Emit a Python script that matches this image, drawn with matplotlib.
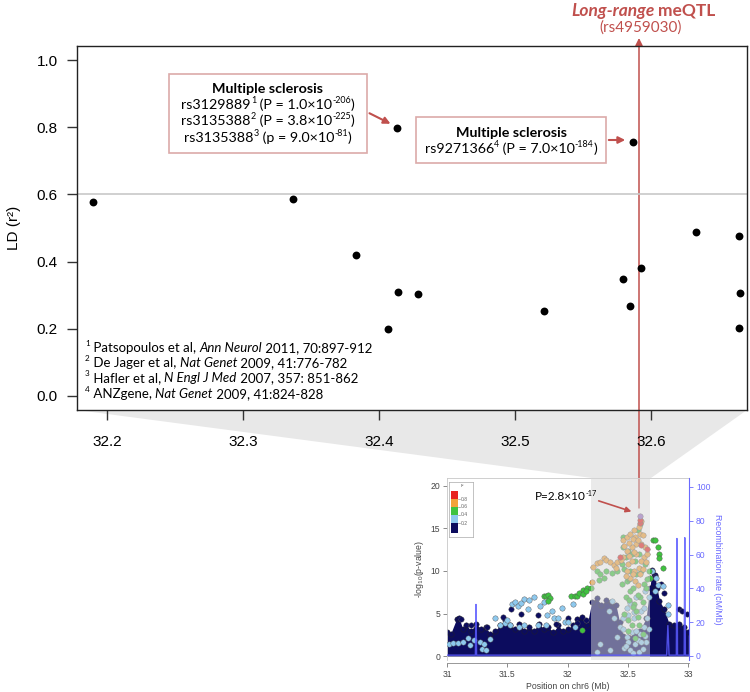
import matplotlib
matplotlib.use('Agg')
import matplotlib.pyplot as plt
from matplotlib.patches import Polygon, FancyArrowPatch, Rectangle

plt.rcParams['font.family'] = ['Liberation Sans', 'DejaVu Sans']
plt.rcParams['mathtext.fontset'] = 'custom'
plt.rcParams['mathtext.rm'] = 'Lato'
plt.rcParams['mathtext.it'] = 'Lato:italic'
plt.rcParams['mathtext.bf'] = 'Lato:bold'

# ---------------- data: main LD panel ----------------
ld_pos = [32.1898, 32.3366, 32.3833, 32.4137, 32.4287, 32.4066, 32.5213, 32.5791,
          32.5843, 32.5927, 32.6332, 32.6647, 32.6654, 32.6647, 32.4130, 32.5870]
ld_r2 = [0.578, 0.586, 0.419, 0.309, 0.305, 0.199, 0.254, 0.347,
         0.269, 0.382, 0.487, 0.477, 0.306, 0.203, 0.797, 0.756]
main_xticks = [32.2, 32.3, 32.4, 32.5, 32.6]
main_yticks = [0.0, 0.2, 0.4, 0.6, 0.8, 1.0]

# annotation lines as (text, is_superscript) pieces
box1_title = "Multiple sclerosis"
box1_lines = [[("rs3129889", 0), ("1", 1), (" (P = 1.0×10", 0), ("-206", 1), (")", 0)],
              [("rs3135388", 0), ("2", 1), (" (P = 3.8×10", 0), ("-225", 1), (")", 0)],
              [("rs3135388", 0), ("3", 1), (" (p = 9.0×10", 0), ("-81", 1), (")", 0)]]
box2_title = "Multiple sclerosis"
box2_lines = [[("rs9271366", 0), ("4", 1), (" (P = 7.0×10", 0), ("-184", 1), (")", 0)]]
inset_label = [("P=2.8×10", 0), ("-17", 1)]
# footnotes: (superscript, authors, journal (italic), reference)
fn_sup = ['1', '2', '3', '4']
fn_auth = [' Patsopoulos et al, ', ' De Jager et al, ', ' Hafler et al, ', ' ANZgene, ']
fn_journal = ['Ann Neurol', 'Nat Genet', 'N Engl J Med', 'Nat Genet']
fn_ref = [' 2011, 70:897-912', ' 2009, 41:776-782', ' 2007, 357: 851-862', ' 2009, 41:824-828']

# ---------------- data: inset (regional association) ----------------
ground_pos = [31.0, 31.03, 31.08, 31.1, 31.13, 31.16, 31.2, 31.24, 31.28, 31.32, 31.36, 31.4,
              31.44, 31.48, 31.52, 31.56, 31.6, 31.64, 31.68, 31.72, 31.76, 31.8, 31.84, 31.88,
              31.92, 31.96, 32.0, 32.04, 32.08, 32.12, 32.16, 32.2, 32.24, 32.28, 32.32, 32.36,
              32.4, 32.43, 32.46, 32.5, 32.55, 32.6, 32.65, 32.68, 32.7, 32.72, 32.74, 32.76,
              32.8, 32.84, 32.88, 32.92, 32.96, 33.0]
ground_top = [2.8, 2.6, 4.4, 4.5, 3.2, 3.6, 3.0, 3.8, 3.2, 3.4, 2.6, 3.0,
              3.6, 4.2, 3.6, 3.2, 3.8, 3.0, 3.4, 3.0, 3.8, 3.2, 3.4, 2.8,
              3.6, 3.0, 3.2, 3.6, 4.4, 4.6, 3.6, 6.4, 6.8, 6.0, 6.6, 6.4,
              6.0, 4.0, 2.4, 2.2, 2.6, 3.0, 4.5, 8.0, 10.0, 9.5, 8.0, 6.5,
              5.5, 3.8, 3.6, 3.8, 3.4, 2.8]
navy_pts = [(31.46, 4.6), (31.53, 5.5), (31.61, 4.9), (31.75, 4.8), (32.00, 4.5), (32.08, 3.9),
            (32.72, 9.3), (32.77, 8.5), (32.80, 7.4), (32.92, 5.5), (32.95, 5.3), (32.99, 4.9),
            (31.12, 4.3), (31.20, 3.6), (31.33, 3.4), (31.90, 3.8), (32.15, 4.2), (32.70, 10.1)]
lightblue_pts = [(31.02, 1.4), (31.05, 1.5), (31.09, 1.5), (31.13, 1.7), (31.17, 2.1), (31.19, 1.3),
                 (31.22, 1.9), (31.27, 1.7), (31.29, 0.8), (31.32, 0.7), (31.31, 1.4), (31.36, 2.0),
                 (31.40, 4.5), (31.44, 3.6), (31.48, 3.9), (31.52, 3.7), (31.54, 6.1), (31.56, 6.3),
                 (31.59, 5.9), (31.61, 6.2), (31.64, 6.7), (31.68, 6.6), (31.67, 5.5), (31.72, 6.9),
                 (31.77, 5.9), (31.80, 6.4), (31.83, 4.8), (31.87, 5.3), (31.89, 4.5), (31.92, 4.5),
                 (31.95, 5.7), (31.98, 4.0), (32.00, 4.0), (32.04, 6.1), (32.06, 3.4), (31.64, 3.6),
                 (31.60, 3.4), (31.50, 4.2), (31.75, 3.7), (31.82, 3.6),
                 (32.37, 6.5), (32.34, 5.3), (32.38, 4.5), (32.41, 2.2), (32.27, 1.4), (32.24, 0.5),
                 (32.35, 0.7), (32.43, 3.4), (32.49, 2.2), (32.52, 0.7), (32.56, 1.4), (32.59, 0.5),
                 (32.60, 2.6), (32.63, 3.4), (32.66, 4.5), (32.61, 5.3), (32.55, 4.5), (32.49, 5.7),
                 (32.46, 4.5), (32.52, 6.2), (32.57, 6.9), (32.64, 7.6), (32.68, 9.2), (32.70, 10.0),
                 (32.73, 9.2), (32.75, 8.4), (32.79, 8.2), (32.83, 6.0), (32.83, 4.9), (32.67, 6.9),
                 (32.72, 7.6), (32.47, 0.9), (32.50, 1.6), (32.54, 0.4), (32.58, 1.9), (32.62, 0.8),
                 (32.65, 1.7), (32.46, 3.2), (32.48, 1.2), (32.53, 2.8), (32.57, 3.0), (32.61, 1.6),
                 (32.64, 2.4), (32.50, 4.8), (32.55, 5.2), (32.63, 5.6), (32.67, 3.2)]
green_pts = [(31.80, 7.1), (31.82, 7.1), (31.84, 7.2), (31.85, 6.8), (31.84, 6.5), (32.03, 7.1),
             (32.06, 7.1), (32.08, 7.1), (32.09, 7.4), (32.13, 7.8), (32.16, 8.0), (32.19, 8.0),
             (32.12, 3.1), (32.13, 7.3), (32.15, 7.6), (32.24, 10.0), (32.27, 9.6), (32.30, 9.2),
             (32.26, 8.9), (32.32, 10.0), (32.37, 9.8), (32.41, 10.0), (32.45, 10.8), (32.48, 11.6),
             (32.46, 14.0), (32.46, 12.8), (32.50, 12.4), (32.53, 12.0), (32.56, 11.2), (32.59, 12.0),
             (32.61, 10.0), (32.64, 10.8), (32.67, 10.0), (32.68, 9.2), (32.49, 8.8), (32.52, 7.6),
             (32.55, 6.1), (32.57, 5.3), (32.53, 3.6), (32.56, 2.1), (32.50, 2.9), (32.59, 3.6),
             (32.60, 6.9), (32.48, 6.9), (32.45, 8.5), (32.63, 8.5), (32.52, 10.0), (32.58, 14.8),
             (32.60, 15.5), (32.71, 13.6), (32.72, 13.6), (32.75, 12.8), (32.76, 12.0), (32.76, 11.5),
             (32.79, 10.3), (32.47, 10.2), (32.51, 9.0), (32.54, 8.0), (32.58, 7.2), (32.62, 6.4),
             (32.65, 8.0), (32.47, 5.0), (32.50, 4.2), (32.54, 5.8), (32.58, 4.6), (32.62, 2.6),
             (32.57, 9.6), (32.51, 6.6), (32.66, 9.0)]
orange_pts = [(32.21, 10.5), (32.24, 10.9), (32.27, 11.1), (32.30, 11.5), (32.32, 11.3), (32.35, 11.0),
              (32.38, 10.7), (32.41, 11.1), (32.20, 8.7), (32.46, 13.6), (32.49, 14.0), (32.52, 14.4),
              (32.55, 14.8), (32.56, 14.0), (32.59, 15.2), (32.60, 14.4), (32.61, 13.2), (32.57, 13.2),
              (32.53, 12.8), (32.49, 12.4), (32.46, 11.6), (32.50, 10.8), (32.55, 10.0), (32.59, 10.4),
              (32.63, 11.6), (32.66, 12.0), (32.64, 12.8), (32.61, 11.2), (32.52, 9.2), (32.56, 8.8),
              (32.49, 10.0), (32.60, 9.6), (32.53, 11.2), (32.57, 12.0), (32.61, 15.9),
              (32.47, 12.9), (32.51, 13.3), (32.54, 13.8), (32.58, 13.6), (32.62, 14.2), (32.48, 9.4),
              (32.54, 9.6), (32.58, 8.4), (32.62, 10.2), (32.65, 11.0), (32.51, 11.8), (32.55, 12.2),
              (32.44, 11.3), (32.40, 10.4)]
red_pts = [(32.43, 11.6), (32.595, 15.7), (32.60, 16.0), (32.61, 13.0), (32.66, 12.6)]
index_pt = [(32.595, 16.5)]
recomb_pos = [31.0, 31.235, 31.24, 31.245, 32.82, 32.83, 32.84, 32.9, 32.905, 32.91,
              32.965, 32.97, 32.975, 33.0]
recomb_rate = [0.5, 0.5, 30.5, 0.5, 0.5, 18.0, 0.5, 0.5, 69.5, 0.5, 0.5, 70.0, 0.5, 0.5]
band_range = (32.195, 32.685)
inset_xticks = [31, 31.5, 32, 32.5, 33]
inset_xlabels = ['31', '31.5', '32', '32.5', '33']
inset_yticks = [0, 5, 10, 15, 20]
recomb_ticks = [0, 20, 40, 60, 80, 100]
leg_colors = ['#e8231f', '#f2a23a', '#3fc23f', '#8ec9ee', '#0c0c5e']
leg_labels = ['0.8', '0.6', '0.4', '0.2']

# ---------------- figure ----------------
W, H = 750, 692
fig = plt.figure(figsize=(7.5, 6.92), dpi=100)
renderer = fig.canvas.get_renderer()


def P(x, y):
    return (x / W, 1 - y / H)


def rich_line(xpx, ypx, pieces, size, align='center', zorder=5, sup_scale=0.62, sup_raise=4.5,
              **kw):
    """Draw a line of text made of normal / superscript pieces (figure pixel coords)."""
    arts = []
    x = 0.0
    for txt, sup in pieces:
        fs = size * sup_scale if sup else size
        dy = sup_raise if sup else 0
        t = fig.text(0, 1 - (ypx - dy) / H, txt, ha='left', va='center', fontsize=fs,
                     zorder=zorder, **kw)
        w = t.get_window_extent(renderer).width
        arts.append((t, x))
        x += w
    x0 = xpx - x / 2 if align == 'center' else xpx
    for t, off in arts:
        t.set_x((x0 + off) / W)


RED = '#c0504d'
BOXEDGE = '#dcaaa9'

# grey funnel connecting main panel to inset band
fig.add_artist(Polygon([P(77, 410), P(747, 410), P(651, 478), P(592, 478)], closed=True,
                       transform=fig.transFigure, facecolor='#e8e8e8', edgecolor='none', zorder=-3))

# ---- main axes ----
ax = fig.add_axes([77 / W, 1 - 410 / H, 670 / W, 364 / H])
ax.set_facecolor('none')
ax.set_xlim(32.178, 32.6706)
ax.set_ylim(-0.0417, 1.0417)
ax.axhline(0.6, color='#c8c8c8', lw=1.2, zorder=1)
ax.scatter(ld_pos, ld_r2, s=32, color='black', zorder=3, linewidths=0)
ax.set_xticks(main_xticks)
ax.set_xticklabels([f'{v:.1f}' for v in main_xticks])
ax.set_yticks(main_yticks)
ax.set_yticklabels([f'{v:.1f}' for v in main_yticks])
ax.tick_params(axis='x', length=7, width=1, pad=11, labelsize=11, color='#333')
ax.tick_params(axis='y', length=7, width=1, pad=7, labelsize=11, color='#333')
for s in ax.spines.values():
    s.set_linewidth(1.0)
    s.set_color('#222')
fig.text(14 / W, 1 - 228 / H, 'LD (r²)', rotation=90, ha='center', va='center', fontsize=11)

# footnotes, drawn piece by piece
FN_SIZE = 9.5
for i, yy in enumerate([348, 363, 378.5, 394]):
    x = 85 / W
    y = 1 - yy / H
    pieces = [(fn_sup[i], 'normal', FN_SIZE * 0.62, 4.5),
              (fn_auth[i], 'normal', FN_SIZE, 0),
              (fn_journal[i], 'italic', FN_SIZE, 0),
              (fn_ref[i], 'normal', FN_SIZE, 0)]
    for txt, style, size, dy in pieces:
        t = fig.text(x, y + dy / H, txt, ha='left', va='center', fontsize=size, family='Lato',
                     fontstyle=style, zorder=5)
        bb = t.get_window_extent(renderer)
        x = bb.x1 / W

# annotation box 1
fig.add_artist(Rectangle(P(169, 153), 198 / W, 79 / H, transform=fig.transFigure,
                         facecolor='white', edgecolor=BOXEDGE, lw=1.2, zorder=2))
fig.text(268 / W, 1 - 89 / H, box1_title, ha='center', va='center', fontsize=10.3, family='Lato',
         fontweight='bold', zorder=5)
for pieces, yy in zip(box1_lines, [105, 121, 138]):
    rich_line(268, yy, pieces, 10.3, family='Lato')
fig.add_artist(FancyArrowPatch(P(367, 112), P(393, 125), transform=fig.transFigure,
                               arrowstyle='-|>', mutation_scale=10, color=RED, lw=1.5, zorder=4))

# annotation box 2
fig.add_artist(Rectangle(P(416, 163), 190 / W, 46 / H, transform=fig.transFigure,
                         facecolor='white', edgecolor=BOXEDGE, lw=1.2, zorder=2))
fig.text(511 / W, 1 - 133 / H, box2_title, ha='center', va='center', fontsize=10.3, family='Lato',
         fontweight='bold', zorder=5)
for pieces, yy in zip(box2_lines, [149]):
    rich_line(511, yy, pieces, 10.3, family='Lato')
fig.add_artist(FancyArrowPatch(P(606, 140), P(628, 140), transform=fig.transFigure,
                               arrowstyle='-|>', mutation_scale=10, color=RED, lw=1.5, zorder=4))

# title of meQTL
fig.text(655 / W, 1 - 11 / H, 'Long-range', ha='right', va='center', fontsize=12.5, family='Lato',
         fontweight='bold', fontstyle='italic', color=RED)
fig.text(658 / W, 1 - 11 / H, 'meQTL', ha='left', va='center', fontsize=12.5, family='Lato',
         fontweight='bold', color=RED)
fig.text(641 / W, 1 - 28 / H, '(rs4959030)', ha='center', va='center', fontsize=11, family='Lato',
         color=RED)

# long vertical meQTL line with arrow
fig.add_artist(FancyArrowPatch(P(639, 508), P(639, 38), transform=fig.transFigure,
                               arrowstyle='-|>', mutation_scale=11, color=RED, lw=1.1, zorder=-1,
                               shrinkA=0, shrinkB=0))

# ---- inset axes ----
axi = fig.add_axes([447 / W, 1 - 660 / H, 242 / W, 182 / H])
axi.set_facecolor('none')
axi.set_xlim(31.0, 33.005)
axi.set_ylim(-0.47, 20.94)
navy = leg_colors[4]
axi.fill_between(ground_pos, 0, ground_top, color=navy, lw=0, zorder=1)
axi.scatter(ground_pos, ground_top, s=15, color=navy, edgecolors='#222', linewidths=0.3, zorder=2)


def sc(pts, col, z):
    axi.scatter([p[0] for p in pts], [p[1] for p in pts], s=15, color=col,
                edgecolors='#555', linewidths=0.3, zorder=z)


sc(navy_pts, navy, 2)
sc(lightblue_pts, leg_colors[3], 3)
sc(green_pts, leg_colors[2], 4)
sc(orange_pts, leg_colors[1], 5)
sc(red_pts, leg_colors[0], 6)
sc(index_pt, '#9b6fc4', 7)
axi.axvspan(*band_range, color='#d6d6d6', alpha=0.5, lw=0, zorder=8)

axi.set_xticks(inset_xticks)
axi.set_xticklabels(inset_xlabels)
axi.set_yticks(inset_yticks)
axi.tick_params(axis='both', labelsize=6.2, length=3, width=0.6, color='#777', labelcolor='#444', pad=2)
axi.spines['bottom'].set_position(('outward', 2.5))
axi.spines['bottom'].set_color('#888')
axi.spines['bottom'].set_linewidth(0.6)
for k in ['top', 'left', 'right']:
    axi.spines[k].set_color('#c8c8c8')
    axi.spines[k].set_linewidth(0.6)
axi.set_xlabel('Position on chr6 (Mb)', fontsize=6.3, color='#444', labelpad=2)
axi.set_ylabel('-log$_{10}$(p-value)', fontsize=6.3, color='#444', labelpad=3)

# P-value label of the index SNP (figure pixel coords of the inset)
rich_line(566, 497, inset_label, 8.5, sup_raise=3.5, family='Lato', zorder=10)
axi.annotate('', xy=(32.55, 16.9), xytext=(32.235, 18.35),
             arrowprops=dict(arrowstyle='-|>', color=RED, lw=1.2, mutation_scale=8), zorder=10)

axr = axi.twinx()
axr.set_ylim(-2.37, 105.3)
axr.plot(recomb_pos, recomb_rate, color='#5a5aff', lw=1.0, alpha=0.85)
axr.set_yticks(recomb_ticks)
axr.tick_params(axis='y', labelsize=6.2, length=3, width=0.6, color='#6a6aff', labelcolor='#6a6aff', pad=2)
axr.spines['right'].set_color('#6a6aff')
axr.spines['right'].set_linewidth(0.8)
for k in ['top', 'left', 'bottom']:
    axr.spines[k].set_visible(False)
axr.set_ylabel('Recombination rate (cM/Mb)', rotation=270, fontsize=6.3, color='#6a6aff', labelpad=8)

# inset colour legend
leg = fig.add_axes([449 / W, 1 - 537 / H, 24 / W, 55 / H])
leg.set_xlim(0, 1)
leg.set_ylim(0, 1)
leg.set_xticks([])
leg.set_yticks([])
for s in leg.spines.values():
    s.set_color('#aaa')
    s.set_linewidth(0.5)
bounds = [0.83, 0.69, 0.55, 0.40, 0.25, 0.07]
for i, c in enumerate(leg_colors):
    leg.add_patch(Rectangle((0.08, bounds[i + 1]), 0.3, bounds[i] - bounds[i + 1], color=c, lw=0))
for i, lab in enumerate(leg_labels):
    leg.plot([0.38, 0.46], [bounds[i + 1]] * 2, color='#777', lw=0.4)
    leg.text(0.5, bounds[i + 1], lab, fontsize=3.6, color='#666', va='center', ha='left')
leg.text(0.55, 0.93, 'r²', fontsize=3.6, color='#666', va='center', ha='center')

fig.savefig('out.png', dpi=100)
